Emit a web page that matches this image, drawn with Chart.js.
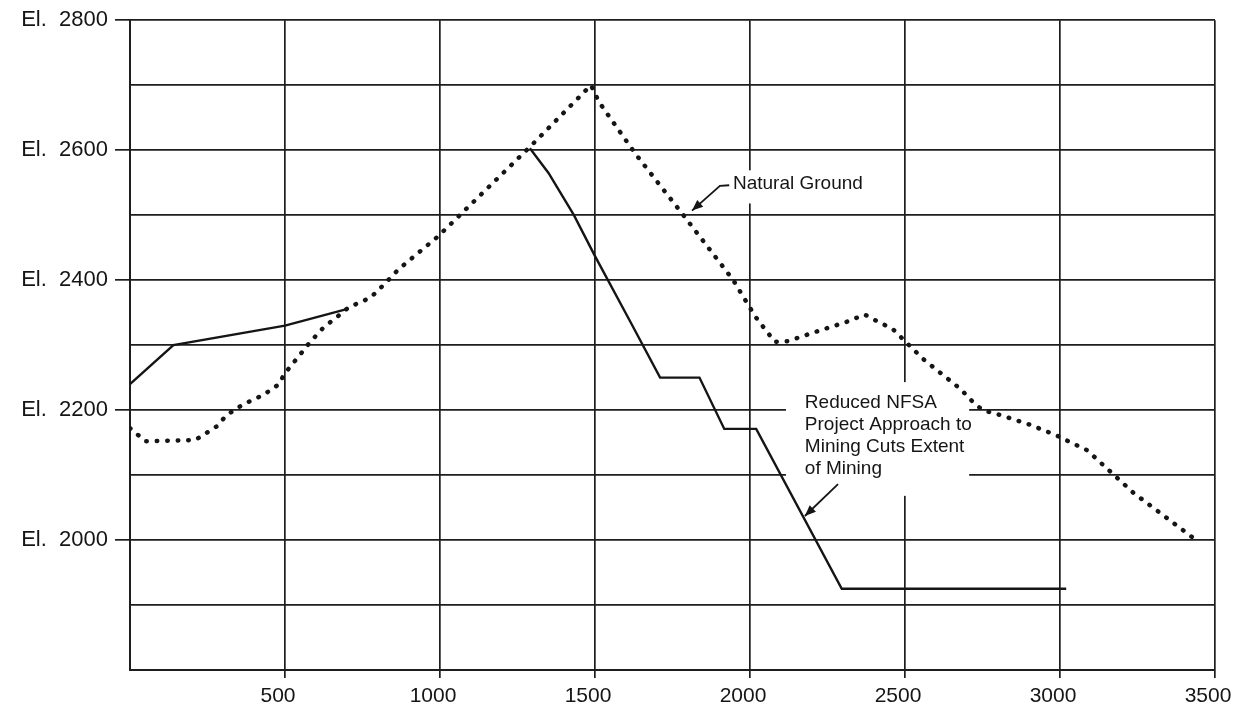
<!DOCTYPE html>
<html>
<head>
<meta charset="utf-8">
<script src="https://cdn.jsdelivr.net/npm/chart.js@4.4.1/dist/chart.umd.min.js"></script>
<style>
  html, body { margin: 0; padding: 0; background: #ffffff; }
  #wrap { width: 1236px; height: 713px; }
</style>
</head>
<body>
<div id="wrap"><canvas id="profile" width="1236" height="713"></canvas></div>
<script>
// Natural ground profile: station (ft) and elevation (ft)
const groundStation = [0, 50, 211, 280, 311, 366, 429, 481, 497, 553, 578, 624, 672, 705, 776, 823, 865,
  993, 1105, 1290, 1487, 1513, 1631, 1785, 1946, 1966, 2017, 2080, 2123, 2190, 2313, 2370, 2413, 2460,
  2500, 2560, 2680, 2720, 2750, 2810, 2900, 2984, 3088, 3236, 3425];
const groundElev = [2172, 2152, 2154, 2175, 2192, 2209, 2223, 2240, 2255, 2288, 2303, 2327, 2345, 2358, 2373, 2395, 2416,
  2467, 2519, 2605, 2700, 2674, 2594, 2500, 2400, 2384, 2344, 2305, 2306, 2317, 2336, 2347, 2336, 2325,
  2306, 2278, 2232, 2212, 2200, 2192, 2178, 2162, 2138, 2073, 2005];

// Reduced mining cut profile; the null breaks the line where the cut follows natural ground
const cutStation = [0, 140, 500, 705, 1000, 1290, 1350, 1432, 1500, 1614, 1710, 1837, 1917, 2020, 2296, 3020];
const cutElev = [2240, 2300, 2330, 2356, null, 2603, 2565, 2500, 2437, 2336, 2250, 2250, 2171, 2171, 1925, 1925];

// Axis labelling
const xTickValues = [500, 1000, 1500, 2000, 2500, 3000, 3500];
const yTickValues = [2000, 2200, 2400, 2600, 2800];
const yTickPrefix = 'El.  ';

const INK = '#151515';
const FONT = "'Liberation Sans', Arial, Helvetica, sans-serif";

// Callout text, white backing boxes and leader arrows, in station/elevation units
const notes = [
  {
    lines: ['Natural Ground'],
    at: [1945, 2548],
    mask: [1925, 2569, 2370, 2518],
    arrow: [[1933, 2546], [1903, 2545], [1813, 2507]]
  },
  {
    lines: ['Reduced NFSA', 'Project Approach to', 'Mining Cuts Extent', 'of Mining'],
    at: [2177, 2212],
    mask: [2116, 2243, 2707, 2068],
    arrow: [[2284, 2086], [2177, 2037]]
  }
];

const toPoints = (xs, ys) => xs.map((v, i) => ({ x: v, y: ys[i] }));

const notePlugin = {
  id: 'profileNotes',
  beforeDatasetsDraw(chart) {
    const { ctx, scales: { x, y } } = chart;
    ctx.save();
    ctx.fillStyle = '#ffffff';
    notes.forEach(n => {
      const [x1, y1, x2, y2] = n.mask;
      const px1 = x.getPixelForValue(x1), px2 = x.getPixelForValue(x2);
      const py1 = y.getPixelForValue(y1), py2 = y.getPixelForValue(y2);
      ctx.fillRect(px1, py1, px2 - px1, py2 - py1);
    });
    ctx.restore();
  },
  afterDatasetsDraw(chart) {
    const { ctx, scales: { x, y } } = chart;
    ctx.save();
    ctx.fillStyle = INK;
    ctx.strokeStyle = INK;
    ctx.font = '19px ' + FONT;
    ctx.textAlign = 'left';
    ctx.textBaseline = 'middle';
    notes.forEach(n => {
      const tx = x.getPixelForValue(n.at[0]);
      const ty = y.getPixelForValue(n.at[1]);
      n.lines.forEach((line, i) => ctx.fillText(line, tx, ty + i * 22));

      const pts = n.arrow.map(p => [x.getPixelForValue(p[0]), y.getPixelForValue(p[1])]);
      ctx.lineWidth = 1.8;
      ctx.beginPath();
      ctx.moveTo(pts[0][0], pts[0][1]);
      for (let i = 1; i < pts.length; i++) ctx.lineTo(pts[i][0], pts[i][1]);
      ctx.stroke();

      const [ex, ey] = pts[pts.length - 1];
      const [sx, sy] = pts[pts.length - 2];
      const ang = Math.atan2(ey - sy, ex - sx);
      const len = 11, half = 4.5;
      ctx.beginPath();
      ctx.moveTo(ex, ey);
      ctx.lineTo(ex - len * Math.cos(ang) + half * Math.sin(ang), ey - len * Math.sin(ang) - half * Math.cos(ang));
      ctx.lineTo(ex - len * Math.cos(ang) - half * Math.sin(ang), ey - len * Math.sin(ang) + half * Math.cos(ang));
      ctx.closePath();
      ctx.fill();
    });
    ctx.restore();
  }
};

const GRID = '#1e1e1e';

new Chart(document.getElementById('profile'), {
  type: 'line',
  data: {
    datasets: [
      {
        label: 'Natural Ground',
        data: toPoints(groundStation, groundElev),
        borderColor: INK,
        borderWidth: 4.5,
        borderDash: [0.5, 10],
        borderCapStyle: 'round',
        pointRadius: 0,
        tension: 0,
        fill: false
      },
      {
        label: 'Reduced NFSA Project Approach to Mining Cuts Extent of Mining',
        data: toPoints(cutStation, cutElev),
        borderColor: INK,
        borderWidth: 2.4,
        pointRadius: 0,
        tension: 0,
        spanGaps: false,
        fill: false
      }
    ]
  },
  options: {
    responsive: false,
    animation: false,
    devicePixelRatio: 1,
    layout: { padding: { top: 20, right: 21, bottom: 0, left: 0 } },
    plugins: {
      legend: { display: false },
      tooltip: { enabled: false }
    },
    scales: {
      x: {
        type: 'linear',
        min: 0,
        max: 3500,
        afterFit(scale) { scale.height = 43; scale.paddingLeft = 0; scale.paddingRight = 0; },
        ticks: {
          stepSize: 500,
          autoSkip: false,
          maxRotation: 0,
          padding: 6,
          labelOffset: -7,
          color: INK,
          font: { family: FONT, size: 21 },
          callback: v => xTickValues.includes(v) ? String(v) : ''
        },
        grid: {
          color: GRID,
          lineWidth: 1.7,
          tickLength: 8,
          tickWidth: 1.7,
          tickColor: ctx => (ctx.tick && xTickValues.includes(ctx.tick.value)) ? GRID : 'rgba(0,0,0,0)'
        },
        border: { display: true, color: GRID, width: 2 }
      },
      y: {
        type: 'linear',
        min: 1800,
        max: 2800,
        afterFit(scale) { scale.width = 130; },
        ticks: {
          stepSize: 100,
          autoSkip: false,
          padding: 7,
          color: INK,
          font: { family: FONT, size: 22 },
          callback: v => yTickValues.includes(v) ? yTickPrefix + v : ''
        },
        grid: {
          color: GRID,
          lineWidth: 1.7,
          tickLength: 15,
          tickWidth: 1.7,
          tickColor: ctx => (ctx.tick && yTickValues.includes(ctx.tick.value)) ? GRID : 'rgba(0,0,0,0)'
        },
        border: { display: true, color: GRID, width: 2 }
      }
    }
  },
  plugins: [notePlugin]
});
</script>
</body>
</html>
